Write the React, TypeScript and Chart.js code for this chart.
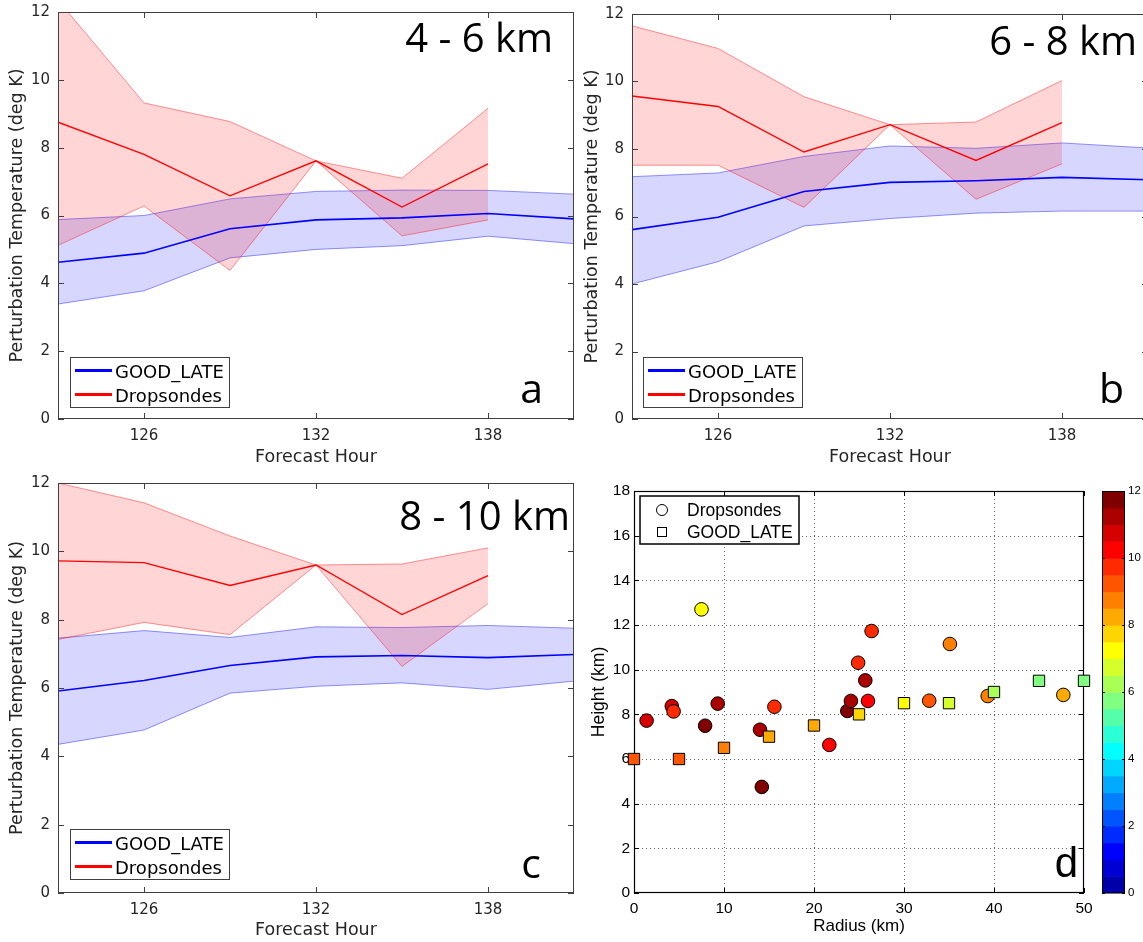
import React, { useEffect, useRef } from "react";
import { Chart, registerables } from "chart.js";

Chart.register(...registerables);

// ---------------- data ----------------
const hours = [123, 126, 129, 132, 135, 138, 141];
const dropHours = [123, 126, 129, 132, 135, 138];
const hourTicks = [126, 132, 138];
const tempTicks = [0, 2, 4, 6, 8, 10, 12];

// panel a : 4 - 6 km
const goodMeanA = [4.62, 4.89, 5.61, 5.87, 5.93, 6.06, 5.9];
const goodUpperA = [5.88, 6.0, 6.49, 6.71, 6.75, 6.74, 6.63];
const goodLowerA = [3.39, 3.78, 4.75, 5.0, 5.11, 5.39, 5.17];
const dropMeanA = [8.75, 7.8, 6.58, 7.61, 6.25, 7.52];
const dropUpperA = [12.35, 9.32, 8.77, 7.61, 7.1, 9.16];
const dropLowerA = [5.12, 6.28, 4.38, 7.61, 5.4, 5.87];

// panel b : 6 - 8 km
const goodMeanB = [5.61, 5.98, 6.74, 7.01, 7.06, 7.16, 7.09];
const goodUpperB = [7.18, 7.29, 7.78, 8.09, 8.02, 8.18, 8.03];
const goodLowerB = [4.0, 4.66, 5.72, 5.94, 6.1, 6.16, 6.16];
const dropMeanB = [9.57, 9.26, 7.91, 8.72, 7.66, 8.78];
const dropUpperB = [11.65, 10.98, 9.55, 8.72, 8.8, 10.03];
const dropLowerB = [7.52, 7.52, 6.27, 8.72, 6.51, 7.56];

// panel c : 8 - 10 km
const goodMeanC = [5.91, 6.22, 6.66, 6.91, 6.95, 6.89, 6.98];
const goodUpperC = [7.46, 7.68, 7.48, 7.79, 7.77, 7.83, 7.75];
const goodLowerC = [4.35, 4.77, 5.85, 6.05, 6.15, 5.96, 6.2];
const dropMeanC = [9.72, 9.67, 9.0, 9.6, 8.15, 9.29];
const dropUpperC = [12.0, 11.42, 10.45, 9.6, 9.63, 10.1];
const dropLowerC = [7.42, 7.92, 7.56, 9.6, 6.63, 8.47];

// panel d : scatter
const dropRadius = [1.4, 4.2, 4.4, 7.5, 7.9, 9.3, 14.0, 14.2, 15.6, 21.7, 23.7, 24.1, 24.9, 25.7, 26.0, 26.4, 32.8, 35.1, 39.3, 47.7];
const dropHeight = [7.72, 8.37, 8.13, 12.7, 7.49, 8.48, 7.31, 4.75, 8.34, 6.63, 8.15, 8.6, 10.31, 9.52, 8.6, 11.73, 8.61, 11.15, 8.82, 8.87];
const dropValue = [10.7, 10.7, 9.8, 7.2, 11.8, 11.2, 11.2, 11.8, 9.8, 10.2, 11.8, 11.2, 9.8, 11.2, 10.2, 9.8, 9.3, 8.7, 8.7, 8.2];
const goodRadius = [0, 5, 10, 15, 20, 25, 30, 35, 40, 45, 50];
const goodHeight = [6.0, 6.0, 6.5, 7.0, 7.5, 8.0, 8.5, 8.5, 9.0, 9.5, 9.5];
const goodValue = [9.3, 9.3, 8.7, 8.2, 8.4, 7.7, 7.2, 6.7, 6.2, 5.7, 5.7];
const radiusTicks = [0, 10, 20, 30, 40, 50];
const heightTicks = [0, 2, 4, 6, 8, 10, 12, 14, 16, 18];
const colorTicks = [0, 2, 4, 6, 8, 10, 12];
const colorLevels = 24;
const colorMax = 12;

// ---------------- styling ----------------
const CW = 1160;
const CH = 942;
const AX = "#262626";
const BOX = "#404040";
const SANS = "'DejaVu Sans', sans-serif";
const OPEN = "'Open Sans', sans-serif";
const HELV = "'Liberation Sans', Arial, sans-serif";

function jet(m: number): number[][] {
  const n = Math.ceil(m / 4);
  const u: number[] = [];
  for (let i = 1; i <= n; i++) u.push(i / n);
  for (let i = 0; i < n - 1; i++) u.push(1);
  for (let i = n; i >= 1; i--) u.push(i / n);
  const J = Array.from({ length: m }, () => [0, 0, 0]);
  const g0 = Math.ceil(n / 2) - (m % 4 === 1 ? 1 : 0);
  u.forEach((val, k) => {
    const g = g0 + k + 1;
    const r = g + n;
    const b = g - n;
    if (r >= 1 && r <= m) J[r - 1][0] = val;
    if (g >= 1 && g <= m) J[g - 1][1] = val;
    if (b >= 1 && b <= m) J[b - 1][2] = val;
  });
  return J;
}
const JET = jet(colorLevels);
const rgb = (c: number[]) => `rgb(${Math.round(c[0] * 255)},${Math.round(c[1] * 255)},${Math.round(c[2] * 255)})`;
const colorFor = (v: number) => {
  const idx = Math.min(colorLevels - 1, Math.max(0, Math.floor((v / colorMax) * colorLevels)));
  return rgb(JET[idx]);
};

const pts = (xs: number[], ys: number[]) => ys.map((y, i) => ({ x: xs[i], y }));

type Area = { l: number; t: number; r: number; b: number };

interface LineSpec {
  area: Area;
  yTitleX: number;
  xTitleY: number;
  rangeText: string;
  rangeRight: number;
  rangeBase: number;
  letter: string;
  letterRight: number;
  letterBase: number;
  legendLeft: number;
  legendTop: number;
  goodMean: number[];
  goodUpper: number[];
  goodLower: number[];
  dropMean: number[];
  dropUpper: number[];
  dropLower: number[];
}

const panels: LineSpec[] = [
  {
    area: { l: 58, t: 12, r: 574, b: 419 }, yTitleX: 17, xTitleY: 457,
    rangeText: "4 - 6 km", rangeRight: 553, rangeBase: 52,
    letter: "a", letterRight: 543, letterBase: 403, legendLeft: 70, legendTop: 357,
    goodMean: goodMeanA, goodUpper: goodUpperA, goodLower: goodLowerA,
    dropMean: dropMeanA, dropUpper: dropUpperA, dropLower: dropLowerA,
  },
  {
    area: { l: 632, t: 14, r: 1148, b: 419 }, yTitleX: 592, xTitleY: 457,
    rangeText: "6 - 8 km", rangeRight: 1137, rangeBase: 55,
    letter: "b", letterRight: 1124, letterBase: 403, legendLeft: 643, legendTop: 357,
    goodMean: goodMeanB, goodUpper: goodUpperB, goodLower: goodLowerB,
    dropMean: dropMeanB, dropUpper: dropUpperB, dropLower: dropLowerB,
  },
  {
    area: { l: 58, t: 483, r: 574, b: 893 }, yTitleX: 17, xTitleY: 930,
    rangeText: "8 - 10 km", rangeRight: 570, rangeBase: 530,
    letter: "c", letterRight: 541, letterBase: 878, legendLeft: 70, legendTop: 829,
    goodMean: goodMeanC, goodUpper: goodUpperC, goodLower: goodLowerC,
    dropMean: dropMeanC, dropUpper: dropUpperC, dropLower: dropLowerC,
  },
];

function buildLineChart(canvas: HTMLCanvasElement, s: LineSpec) {
  const titleSize = 17.5;
  const lh = titleSize * 1.2;
  const padLeft = s.yTitleX - lh / 2;
  const yWidth = s.area.l - padLeft;
  const xBottom = s.xTitleY + lh / 2;
  const xHeight = xBottom - s.area.b;

  const decor = {
    id: "decor" + s.letter,
    afterDraw(chart: any) {
      const { ctx, chartArea: a, scales } = chart;
      const xs = scales.x;
      const ys = scales.y;
      ctx.save();
      ctx.strokeStyle = BOX;
      ctx.lineWidth = 1;
      ctx.setLineDash([]);
      ctx.strokeRect(a.left + 0.5, a.top + 0.5, a.right - a.left - 1, a.bottom - a.top - 1);
      ctx.beginPath();
      hourTicks.forEach((v) => {
        const px = Math.round(xs.getPixelForValue(v)) + 0.5;
        ctx.moveTo(px, a.bottom);
        ctx.lineTo(px, a.bottom - 6);
        ctx.moveTo(px, a.top);
        ctx.lineTo(px, a.top + 6);
      });
      tempTicks.forEach((v) => {
        const py = Math.round(ys.getPixelForValue(v)) + 0.5;
        ctx.moveTo(a.left, py);
        ctx.lineTo(a.left + 6, py);
        ctx.moveTo(a.right, py);
        ctx.lineTo(a.right - 6, py);
      });
      ctx.stroke();

      // range label and letter
      ctx.fillStyle = "#000";
      ctx.textAlign = "right";
      ctx.textBaseline = "alphabetic";
      ctx.font = `40px ${OPEN}`;
      ctx.fillText(s.rangeText, s.rangeRight, s.rangeBase);
      ctx.font = `41px ${OPEN}`;
      ctx.fillText(s.letter, s.letterRight, s.letterBase);

      // legend
      const L = s.legendLeft;
      const T = s.legendTop;
      ctx.fillStyle = "#fff";
      ctx.fillRect(L, T, 159, 50);
      ctx.strokeStyle = BOX;
      ctx.lineWidth = 1;
      ctx.strokeRect(L + 0.5, T + 0.5, 159, 50);
      ctx.lineWidth = 3;
      ctx.strokeStyle = "#0000ff";
      ctx.beginPath();
      ctx.moveTo(L + 5, T + 13.5);
      ctx.lineTo(L + 42, T + 13.5);
      ctx.stroke();
      ctx.strokeStyle = "#ff0000";
      ctx.beginPath();
      ctx.moveTo(L + 5, T + 37.5);
      ctx.lineTo(L + 42, T + 37.5);
      ctx.stroke();
      ctx.fillStyle = "#000";
      ctx.textAlign = "left";
      ctx.font = `18px ${SANS}`;
      ctx.fillText("GOOD_LATE", L + 45, T + 21);
      ctx.fillText("Dropsondes", L + 45, T + 45);
      ctx.restore();
    },
  };

  const edge = { pointRadius: 0, borderWidth: 1, tension: 0 };

  return new Chart(canvas, {
    type: "line",
    data: {
      datasets: [
        { label: "GOOD_LATE", data: pts(hours, s.goodMean), borderColor: "#0000ff", borderWidth: 1.6, pointRadius: 0, fill: false, order: 0 },
        { label: "Dropsondes", data: pts(dropHours, s.dropMean), borderColor: "#ff0000", borderWidth: 1.4, pointRadius: 0, fill: false, order: 0 },
        { label: "Dropsondes upper", data: pts(dropHours, s.dropUpper), borderColor: "rgba(255,0,0,0.42)", backgroundColor: "rgba(255,0,0,0.165)", fill: "+1", order: 1, ...edge },
        { label: "Dropsondes lower", data: pts(dropHours, s.dropLower), borderColor: "rgba(255,0,0,0.42)", fill: false, order: 1, ...edge },
        { label: "GOOD_LATE upper", data: pts(hours, s.goodUpper), borderColor: "rgba(0,0,255,0.42)", backgroundColor: "rgba(0,0,255,0.16)", fill: "+1", order: 2, ...edge },
        { label: "GOOD_LATE lower", data: pts(hours, s.goodLower), borderColor: "rgba(0,0,255,0.42)", fill: false, order: 2, ...edge },
      ],
    } as any,
    options: {
      animation: false,
      responsive: false,
      events: [],
      layout: { padding: { left: padLeft, top: s.area.t, right: CW - s.area.r, bottom: CH - xBottom } },
      plugins: { legend: { display: false }, tooltip: { enabled: false } },
      scales: {
        x: {
          type: "linear",
          min: 123,
          max: 141,
          afterBuildTicks: (sc: any) => { sc.ticks = hourTicks.map((v) => ({ value: v })); },
          afterFit: (sc: any) => { sc.height = xHeight; },
          grid: { display: false, drawTicks: true, tickLength: 8 },
          border: { display: false },
          ticks: { padding: 0, color: AX, font: { family: SANS, size: 15 }, maxRotation: 0, autoSkip: false },
          title: { display: true, text: "Forecast Hour", color: AX, font: { family: SANS, size: titleSize }, padding: 0 },
        },
        y: {
          type: "linear",
          min: 0,
          max: 12,
          afterBuildTicks: (sc: any) => { sc.ticks = tempTicks.map((v) => ({ value: v })); },
          afterFit: (sc: any) => { sc.width = yWidth; },
          grid: { display: false, drawTicks: true, tickLength: 8 },
          border: { display: false },
          ticks: { padding: 0, color: AX, font: { family: SANS, size: 15 } },
          title: { display: true, text: "Perturbation Temperature (deg K)", color: AX, font: { family: SANS, size: titleSize }, padding: 0 },
        },
      },
    } as any,
    plugins: [decor],
  });
}

function buildScatter(canvas: HTMLCanvasElement) {
  const area: Area = { l: 634, t: 491, r: 1084, b: 893 };
  const yTitleSize = 17.5;
  const xTitleSize = 17;
  const padLeft = 599 - (yTitleSize * 1.2) / 2;
  const yWidth = area.l - padLeft;
  const xBottom = 926 + (xTitleSize * 1.2) / 2;
  const xHeight = xBottom - area.b;
  const cbWidth = 60;

  const decor = {
    id: "decorD",
    beforeDatasetsDraw(chart: any) {
      const { ctx, chartArea: a, scales } = chart;
      ctx.save();
      ctx.strokeStyle = "rgba(0,0,0,0.6)";
      ctx.lineWidth = 1;
      ctx.setLineDash([1, 3]);
      ctx.beginPath();
      radiusTicks.forEach((v) => {
        if (v <= 0 || v >= 50) return;
        const px = Math.round(scales.x.getPixelForValue(v)) + 0.5;
        ctx.moveTo(px, a.top);
        ctx.lineTo(px, a.bottom);
      });
      heightTicks.forEach((v) => {
        if (v <= 0 || v >= 18) return;
        const py = Math.round(scales.y.getPixelForValue(v)) + 0.5;
        ctx.moveTo(a.left, py);
        ctx.lineTo(a.right, py);
      });
      ctx.stroke();

      ctx.setLineDash([]);
      ctx.strokeStyle = "#000";
      ctx.lineWidth = 1.2;
      ctx.strokeRect(a.left + 0.5, a.top + 0.5, a.right - a.left - 1, a.bottom - a.top - 1);
      ctx.lineWidth = 1;
      ctx.beginPath();
      radiusTicks.forEach((v) => {
        const px = Math.round(scales.x.getPixelForValue(v)) + 0.5;
        ctx.moveTo(px, a.bottom);
        ctx.lineTo(px, a.bottom - 5);
        ctx.moveTo(px, a.top);
        ctx.lineTo(px, a.top + 5);
      });
      heightTicks.forEach((v) => {
        const py = Math.round(scales.y.getPixelForValue(v)) + 0.5;
        ctx.moveTo(a.left, py);
        ctx.lineTo(a.left + 5, py);
        ctx.moveTo(a.right, py);
        ctx.lineTo(a.right - 5, py);
      });
      ctx.stroke();
      ctx.restore();
    },
    afterDraw(chart: any) {
      const { ctx, chartArea: a, scales } = chart;
      ctx.save();
      ctx.setLineDash([]);

      // legend
      const L = a.left + 6;
      const T = a.top + 5;
      ctx.fillStyle = "#fff";
      ctx.fillRect(L, T, 159, 48);
      ctx.lineWidth = 1.5;
      ctx.strokeStyle = "#000";
      ctx.strokeRect(L, T, 159, 48);
      ctx.lineWidth = 1;
      ctx.beginPath();
      ctx.arc(L + 22, T + 14, 5.5, 0, Math.PI * 2);
      ctx.stroke();
      ctx.strokeRect(L + 17.5, T + 31.5, 9, 9);
      ctx.fillStyle = "#000";
      ctx.font = `17.5px ${HELV}`;
      ctx.textAlign = "left";
      ctx.textBaseline = "alphabetic";
      ctx.fillText("Dropsondes", L + 47, T + 20);
      ctx.fillText("GOOD_LATE", L + 47, T + 42);

      // letter
      ctx.font = `42px ${HELV}`;
      ctx.textAlign = "right";
      ctx.fillText("d", 1078, 877);

      // colorbar
      const cb = scales.cb;
      const x0 = a.right + 18;
      const x1 = a.right + 41;
      const step = colorMax / colorLevels;
      JET.forEach((c, i) => {
        const yTop = cb.getPixelForValue((i + 1) * step);
        const yBot = cb.getPixelForValue(i * step);
        ctx.fillStyle = rgb(c);
        ctx.fillRect(x0, yTop, x1 - x0, yBot - yTop + 0.6);
      });
      ctx.strokeStyle = "#000";
      ctx.lineWidth = 1;
      ctx.strokeRect(x0 + 0.5, a.top + 0.5, x1 - x0 - 1, a.bottom - a.top - 1);
      ctx.beginPath();
      colorTicks.forEach((v) => {
        const py = Math.round(cb.getPixelForValue(v)) + 0.5;
        ctx.moveTo(x0, py);
        ctx.lineTo(x0 + 3, py);
        ctx.moveTo(x1, py);
        ctx.lineTo(x1 - 3, py);
      });
      ctx.stroke();
      ctx.restore();
    },
  };

  return new Chart(canvas, {
    type: "scatter",
    data: {
      datasets: [
        {
          label: "GOOD_LATE",
          data: pts(goodRadius, goodHeight),
          pointStyle: "rect",
          pointRadius: 8,
          pointBackgroundColor: goodValue.map(colorFor),
          pointBorderColor: "#000",
          pointBorderWidth: 1,
          order: 0,
          clip: false,
        },
        {
          label: "Dropsondes",
          data: pts(dropRadius, dropHeight),
          pointStyle: "circle",
          pointRadius: 6.8,
          pointBackgroundColor: dropValue.map(colorFor),
          pointBorderColor: "#000",
          pointBorderWidth: 1,
          order: 1,
          clip: false,
        },
      ],
    } as any,
    options: {
      animation: false,
      responsive: false,
      events: [],
      layout: { padding: { left: padLeft, top: area.t, right: CW - area.r - cbWidth, bottom: CH - xBottom } },
      plugins: { legend: { display: false }, tooltip: { enabled: false } },
      scales: {
        x: {
          type: "linear",
          min: 0,
          max: 50,
          afterBuildTicks: (sc: any) => { sc.ticks = radiusTicks.map((v) => ({ value: v })); },
          afterFit: (sc: any) => { sc.height = xHeight; },
          grid: { display: false, drawTicks: true, tickLength: 6 },
          border: { display: false },
          ticks: { padding: 0, color: "#000", font: { family: HELV, size: 15.5 }, maxRotation: 0, autoSkip: false },
          title: { display: true, text: "Radius (km)", color: "#000", font: { family: HELV, size: xTitleSize }, padding: 0 },
        },
        y: {
          type: "linear",
          min: 0,
          max: 18,
          afterBuildTicks: (sc: any) => { sc.ticks = heightTicks.map((v) => ({ value: v })); },
          afterFit: (sc: any) => { sc.width = yWidth; },
          grid: { display: false, drawTicks: true, tickLength: 4 },
          border: { display: false },
          ticks: { padding: 0, color: "#000", font: { family: HELV, size: 15.5 } },
          title: { display: true, text: "Height (km)", color: "#000", font: { family: HELV, size: yTitleSize }, padding: 0 },
        },
        cb: {
          type: "linear",
          position: "right",
          min: 0,
          max: colorMax,
          afterBuildTicks: (sc: any) => { sc.ticks = colorTicks.map((v) => ({ value: v })); },
          afterFit: (sc: any) => { sc.width = cbWidth; },
          grid: { display: false, drawTicks: true, tickLength: 44 },
          border: { display: false },
          ticks: { padding: 0, color: "#000", font: { family: HELV, size: 11.5 } },
        },
      },
    } as any,
    plugins: [decor],
  });
}

function LineCanvas({ spec }: { spec: LineSpec }) {
  const ref = useRef<HTMLCanvasElement | null>(null);
  useEffect(() => {
    if (!ref.current) return;
    const ch = buildLineChart(ref.current, spec);
    return () => ch.destroy();
  }, [spec]);
  return <canvas ref={ref} width={CW} height={CH} style={{ position: "absolute", left: 0, top: 0, width: CW, height: CH }} />;
}

function ScatterCanvas() {
  const ref = useRef<HTMLCanvasElement | null>(null);
  useEffect(() => {
    if (!ref.current) return;
    const ch = buildScatter(ref.current);
    return () => ch.destroy();
  }, []);
  return <canvas ref={ref} width={CW} height={CH} style={{ position: "absolute", left: 0, top: 0, width: CW, height: CH }} />;
}

export default function App() {
  return (
    <div style={{ position: "absolute", left: 0, top: 0, width: 1143, height: 942, overflow: "hidden", background: "#fff" }}>
      {panels.map((p) => (
        <LineCanvas key={p.letter} spec={p} />
      ))}
      <ScatterCanvas />
    </div>
  );
}
